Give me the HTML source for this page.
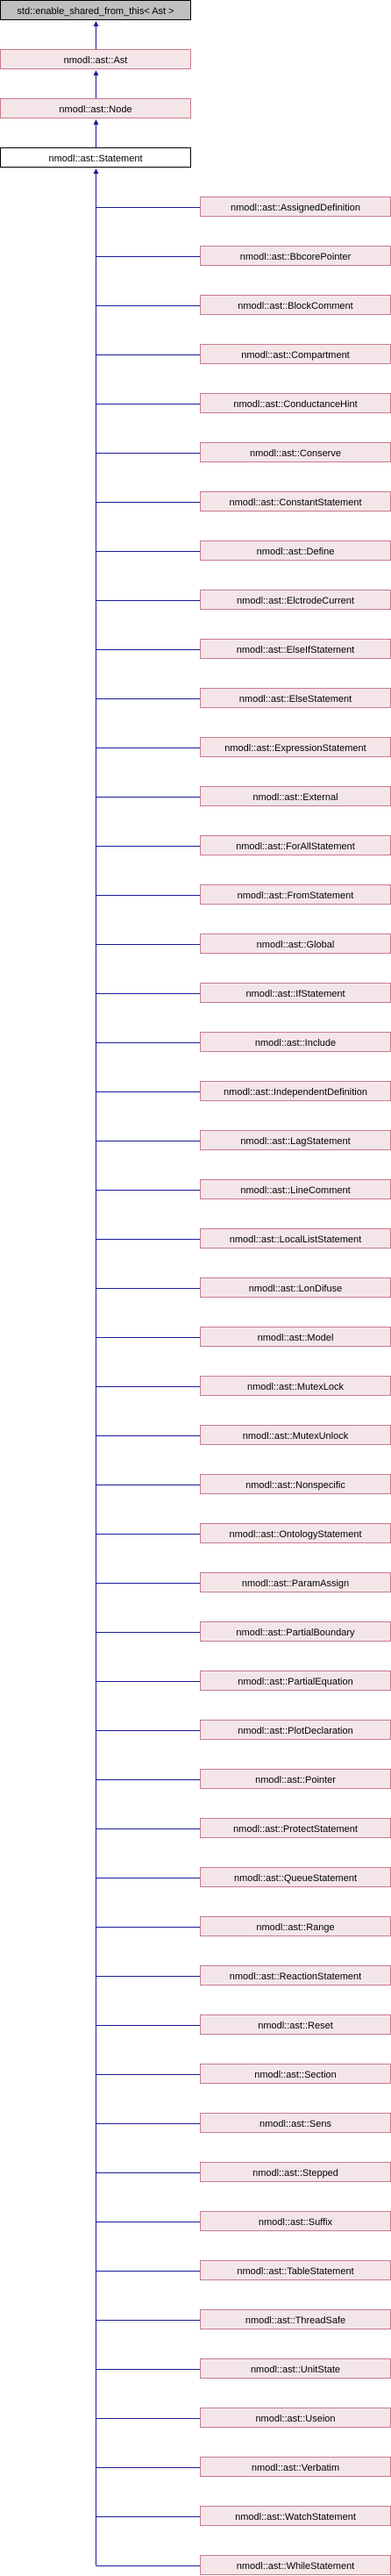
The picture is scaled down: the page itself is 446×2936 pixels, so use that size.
<!DOCTYPE html>
<html><head><meta charset="utf-8"><style>
html,body{margin:0;padding:0;background:#fff;}
svg{display:block;}
text{font-family:"Liberation Sans",Arial,sans-serif;font-size:11px;fill:#000;text-anchor:middle;}
.p{fill:#F4E6E8;stroke:#C87A8E;stroke-width:1;}
.l{stroke:#1A1A9A;stroke-width:1;fill:none;}
.a{fill:#1A1A9A;}
</style></head><body>
<svg width="446" height="2936" xmlns="http://www.w3.org/2000/svg">
<rect x="0.5" y="0.5" width="217" height="22" fill="#BFBFBF" stroke="#000"/>
<text x="109" y="16">std::enable_shared_from_this&lt; Ast &gt;</text>
<rect class="p" x="0.5" y="56.5" width="217" height="22"/>
<text x="109" y="72">nmodl::ast::Ast</text>
<rect class="p" x="0.5" y="112.5" width="217" height="22"/>
<text x="109" y="128">nmodl::ast::Node</text>
<rect x="0.5" y="168.5" width="217" height="22" fill="#fff" stroke="#000"/>
<text x="109" y="184">nmodl::ast::Statement</text>
<path class="l" d="M109.5 28V56M109.5 84V112M109.5 140V168M109.5 196V2924"/>
<path class="a" d="M109.5 24L106.5 30H112.5Z M109.5 80L106.5 86H112.5Z M109.5 136L106.5 142H112.5Z M109.5 192L106.5 198H112.5Z"/>
<g id="kids"></g>
</svg>
<script>
var names=["AssignedDefinition","BbcorePointer","BlockComment","Compartment","ConductanceHint","Conserve","ConstantStatement","Define","ElctrodeCurrent","ElseIfStatement","ElseStatement","ExpressionStatement","External","ForAllStatement","FromStatement","Global","IfStatement","Include","IndependentDefinition","LagStatement","LineComment","LocalListStatement","LonDifuse","Model","MutexLock","MutexUnlock","Nonspecific","OntologyStatement","ParamAssign","PartialBoundary","PartialEquation","PlotDeclaration","Pointer","ProtectStatement","QueueStatement","Range","ReactionStatement","Reset","Section","Sens","Stepped","Suffix","TableStatement","ThreadSafe","UnitState","Useion","Verbatim","WatchStatement","WhileStatement"];
var s="";
names.forEach(function(n,i){var y=224+56*i;
s+='<path class="l" d="M109.5 '+(y+12.5)+'H228"/>';
s+='<rect class="p" x="228.5" y="'+(y+0.5)+'" width="217" height="22"/>';
s+='<text x="337" y="'+(y+16)+'">nmodl::ast::'+n+'</text>';});
document.getElementById("kids").innerHTML=s;
</script>
</body></html>
